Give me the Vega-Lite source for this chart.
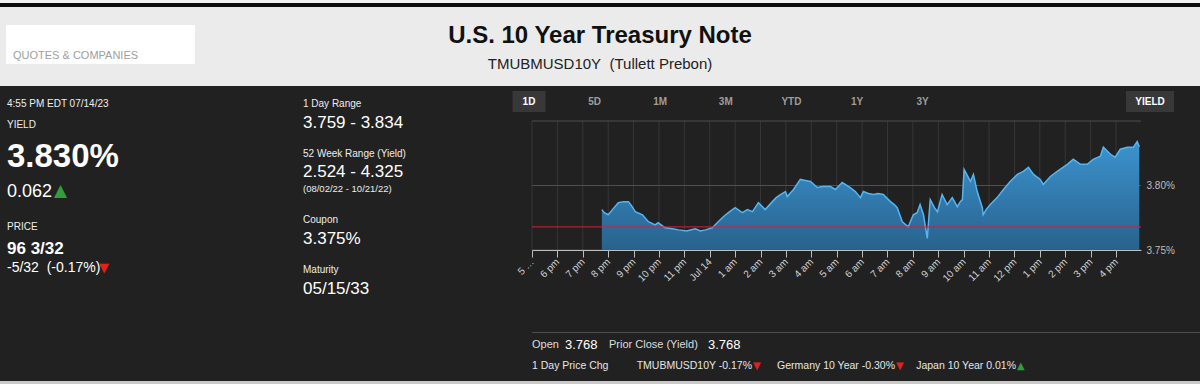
{
  "$schema": "https://vega.github.io/schema/vega-lite/v6.json",
  "width": 1200,
  "height": 384,
  "autosize": {"type": "none"},
  "padding": 0,
  "background": "#212121",
  "config": {"view": {"stroke": null}, "font": "Liberation Sans"},
  "datasets": {
    "search": [{"placeholder": "QUOTES & COMPANIES"}],
    "header": [
      {"role": "title", "text": "U.S. 10 Year Treasury Note"},
      {"role": "subtitle", "text": "TMUBMUSD10Y\u00a0 (Tullett Prebon)"}
    ],
    "quote": [
      {"panel": "quote", "key": "time", "label": "4:55 PM EDT 07/14/23"},
      {"panel": "quote", "key": "yield", "label": "YIELD", "value": "3.830%", "change": "0.062", "dir": "up"},
      {"panel": "quote", "key": "price", "label": "PRICE", "value": "96 3/32", "change": "-5/32\u00a0 (-0.17%)", "dir": "down"}
    ],
    "stats": [
      {"panel": "stats", "key": "1 Day Range", "value": "3.759 - 3.834"},
      {"panel": "stats", "key": "52 Week Range (Yield)", "value": "2.524 - 4.325", "note": "(08/02/22 - 10/21/22)"},
      {"panel": "stats", "key": "Coupon", "value": "3.375%"},
      {"panel": "stats", "key": "Maturity", "value": "05/15/33"}
    ],
    "toolbar": [
      {"bar": "toolbar", "button": "1D", "active": true},
      {"bar": "toolbar", "button": "5D", "active": false},
      {"bar": "toolbar", "button": "1M", "active": false},
      {"bar": "toolbar", "button": "3M", "active": false},
      {"bar": "toolbar", "button": "YTD", "active": false},
      {"bar": "toolbar", "button": "1Y", "active": false},
      {"bar": "toolbar", "button": "3Y", "active": false}
    ],
    "mode": [{"bar": "toolbar", "button": "YIELD", "active": true}],
    "prior": [{"label": "Prior Close (Yield)", "close": 3.768}],
    "levels": [{"level": 3.75}, {"level": 3.8}, {"level": 3.85}],
    "hours": [
      {"hour": "2023-07-13T17:00"}, {"hour": "2023-07-13T18:00"}, {"hour": "2023-07-13T19:00"}, {"hour": "2023-07-13T20:00"},
      {"hour": "2023-07-13T21:00"}, {"hour": "2023-07-13T22:00"}, {"hour": "2023-07-13T23:00"}, {"hour": "2023-07-14T00:00"},
      {"hour": "2023-07-14T01:00"}, {"hour": "2023-07-14T02:00"}, {"hour": "2023-07-14T03:00"}, {"hour": "2023-07-14T04:00"},
      {"hour": "2023-07-14T05:00"}, {"hour": "2023-07-14T06:00"}, {"hour": "2023-07-14T07:00"}, {"hour": "2023-07-14T08:00"},
      {"hour": "2023-07-14T09:00"}, {"hour": "2023-07-14T10:00"}, {"hour": "2023-07-14T11:00"}, {"hour": "2023-07-14T12:00"},
      {"hour": "2023-07-14T13:00"}, {"hour": "2023-07-14T14:00"}, {"hour": "2023-07-14T15:00"}, {"hour": "2023-07-14T16:00"}
    ],
    "footer1": [
      {"line": "prices", "item": "open", "kind": "label", "text": "Open"},
      {"line": "prices", "item": "open_value", "kind": "value", "text": "3.768"},
      {"line": "prices", "item": "prior", "kind": "label", "text": "Prior Close (Yield)"},
      {"line": "prices", "item": "prior_value", "kind": "value", "text": "3.768"}
    ],
    "footer2": [
      {"line": "changes", "item": "label", "text": "1 Day Price Chg"},
      {"line": "changes", "item": "TMUBMUSD10Y", "text": "TMUBMUSD10Y -0.17%", "dir": "down"},
      {"line": "changes", "item": "Germany", "text": "Germany 10 Year -0.30%", "dir": "down"},
      {"line": "changes", "item": "Japan", "text": "Japan 10 Year 0.01%", "dir": "up"}
    ],
    "yield": [
      {"t": "2023-07-13T19:45", "y": 3.7813},
      {"t": "2023-07-13T19:51", "y": 3.7789},
      {"t": "2023-07-13T20:00", "y": 3.7773},
      {"t": "2023-07-13T20:10", "y": 3.7813},
      {"t": "2023-07-13T20:24", "y": 3.7867},
      {"t": "2023-07-13T20:36", "y": 3.7875},
      {"t": "2023-07-13T20:48", "y": 3.7875},
      {"t": "2023-07-13T20:55", "y": 3.7844},
      {"t": "2023-07-13T21:04", "y": 3.7797},
      {"t": "2023-07-13T21:21", "y": 3.7773},
      {"t": "2023-07-13T21:35", "y": 3.7719},
      {"t": "2023-07-13T21:51", "y": 3.7695},
      {"t": "2023-07-13T21:58", "y": 3.7711},
      {"t": "2023-07-13T22:15", "y": 3.7672},
      {"t": "2023-07-13T22:32", "y": 3.7664},
      {"t": "2023-07-13T22:46", "y": 3.7656},
      {"t": "2023-07-13T23:05", "y": 3.7648},
      {"t": "2023-07-13T23:26", "y": 3.7664},
      {"t": "2023-07-13T23:38", "y": 3.7648},
      {"t": "2023-07-13T23:50", "y": 3.7656},
      {"t": "2023-07-14T00:06", "y": 3.7672},
      {"t": "2023-07-14T00:20", "y": 3.7719},
      {"t": "2023-07-14T00:32", "y": 3.7758},
      {"t": "2023-07-14T00:44", "y": 3.7789},
      {"t": "2023-07-14T01:00", "y": 3.7828},
      {"t": "2023-07-14T01:17", "y": 3.7789},
      {"t": "2023-07-14T01:29", "y": 3.7813},
      {"t": "2023-07-14T01:41", "y": 3.7797},
      {"t": "2023-07-14T01:55", "y": 3.7867},
      {"t": "2023-07-14T02:11", "y": 3.7813},
      {"t": "2023-07-14T02:28", "y": 3.7875},
      {"t": "2023-07-14T02:37", "y": 3.7906},
      {"t": "2023-07-14T02:47", "y": 3.7930},
      {"t": "2023-07-14T02:59", "y": 3.7953},
      {"t": "2023-07-14T03:03", "y": 3.7914},
      {"t": "2023-07-14T03:18", "y": 3.7969},
      {"t": "2023-07-14T03:34", "y": 3.8047},
      {"t": "2023-07-14T03:46", "y": 3.8039},
      {"t": "2023-07-14T03:58", "y": 3.8031},
      {"t": "2023-07-14T04:14", "y": 3.7984},
      {"t": "2023-07-14T04:28", "y": 3.7992},
      {"t": "2023-07-14T04:45", "y": 3.7992},
      {"t": "2023-07-14T04:57", "y": 3.7969},
      {"t": "2023-07-14T05:13", "y": 3.8023},
      {"t": "2023-07-14T05:32", "y": 3.7984},
      {"t": "2023-07-14T05:44", "y": 3.7953},
      {"t": "2023-07-14T05:56", "y": 3.7906},
      {"t": "2023-07-14T06:03", "y": 3.7953},
      {"t": "2023-07-14T06:15", "y": 3.7938},
      {"t": "2023-07-14T06:27", "y": 3.7930},
      {"t": "2023-07-14T06:38", "y": 3.7938},
      {"t": "2023-07-14T06:50", "y": 3.7930},
      {"t": "2023-07-14T07:07", "y": 3.7875},
      {"t": "2023-07-14T07:16", "y": 3.7852},
      {"t": "2023-07-14T07:23", "y": 3.7828},
      {"t": "2023-07-14T07:35", "y": 3.7719},
      {"t": "2023-07-14T07:49", "y": 3.7680},
      {"t": "2023-07-14T08:01", "y": 3.7773},
      {"t": "2023-07-14T08:10", "y": 3.7789},
      {"t": "2023-07-14T08:17", "y": 3.7852},
      {"t": "2023-07-14T08:25", "y": 3.7773},
      {"t": "2023-07-14T08:34", "y": 3.7590},
      {"t": "2023-07-14T08:41", "y": 3.7891},
      {"t": "2023-07-14T08:51", "y": 3.7828},
      {"t": "2023-07-14T08:58", "y": 3.7797},
      {"t": "2023-07-14T09:09", "y": 3.7930},
      {"t": "2023-07-14T09:21", "y": 3.7852},
      {"t": "2023-07-14T09:33", "y": 3.7906},
      {"t": "2023-07-14T09:45", "y": 3.7836},
      {"t": "2023-07-14T09:52", "y": 3.7875},
      {"t": "2023-07-14T09:57", "y": 3.7891},
      {"t": "2023-07-14T10:01", "y": 3.8125},
      {"t": "2023-07-14T10:11", "y": 3.8063},
      {"t": "2023-07-14T10:16", "y": 3.8031},
      {"t": "2023-07-14T10:23", "y": 3.8086},
      {"t": "2023-07-14T10:32", "y": 3.7953},
      {"t": "2023-07-14T10:44", "y": 3.7828},
      {"t": "2023-07-14T10:46", "y": 3.7773},
      {"t": "2023-07-14T10:53", "y": 3.7813},
      {"t": "2023-07-14T11:03", "y": 3.7852},
      {"t": "2023-07-14T11:19", "y": 3.7906},
      {"t": "2023-07-14T11:34", "y": 3.7969},
      {"t": "2023-07-14T11:50", "y": 3.8031},
      {"t": "2023-07-14T12:07", "y": 3.8086},
      {"t": "2023-07-14T12:21", "y": 3.8109},
      {"t": "2023-07-14T12:33", "y": 3.8141},
      {"t": "2023-07-14T12:45", "y": 3.8086},
      {"t": "2023-07-14T13:01", "y": 3.8047},
      {"t": "2023-07-14T13:08", "y": 3.8008},
      {"t": "2023-07-14T13:25", "y": 3.8070},
      {"t": "2023-07-14T13:41", "y": 3.8109},
      {"t": "2023-07-14T14:05", "y": 3.8164},
      {"t": "2023-07-14T14:19", "y": 3.8203},
      {"t": "2023-07-14T14:36", "y": 3.8164},
      {"t": "2023-07-14T14:52", "y": 3.8164},
      {"t": "2023-07-14T15:06", "y": 3.8203},
      {"t": "2023-07-14T15:23", "y": 3.8227},
      {"t": "2023-07-14T15:30", "y": 3.8297},
      {"t": "2023-07-14T15:47", "y": 3.8242},
      {"t": "2023-07-14T15:58", "y": 3.8219},
      {"t": "2023-07-14T16:10", "y": 3.8281},
      {"t": "2023-07-14T16:27", "y": 3.8297},
      {"t": "2023-07-14T16:41", "y": 3.8297},
      {"t": "2023-07-14T16:50", "y": 3.8340},
      {"t": "2023-07-14T16:55", "y": 3.8300}
    ]
  },
  "layer": [
    {
      "data": {"values": [{"region": "page top edge"}]},
      "mark": {"type": "rect", "fill": "#f2f2f2"},
      "encoding": {
        "x": {"field": "region", "type": "nominal", "scale": {"type": "band", "range": [0, 1200], "paddingInner": 0, "paddingOuter": 0}, "axis": null},
        "y": {"field": "region", "type": "nominal", "scale": {"type": "band", "range": [0, 3], "paddingInner": 0, "paddingOuter": 0}, "axis": null}
      }
    },
    {
      "data": {"values": [{"region": "page top border"}]},
      "mark": {"type": "rect", "fill": "#0d0d0d"},
      "encoding": {
        "x": {"field": "region", "type": "nominal", "scale": {"type": "band", "range": [0, 1200], "paddingInner": 0, "paddingOuter": 0}, "axis": null},
        "y": {"field": "region", "type": "nominal", "scale": {"type": "band", "range": [3, 7], "paddingInner": 0, "paddingOuter": 0}, "axis": null}
      }
    },
    {
      "data": {"values": [{"region": "header"}]},
      "mark": {"type": "rect", "fill": "#ebebeb"},
      "encoding": {
        "x": {"field": "region", "type": "nominal", "scale": {"type": "band", "range": [0, 1200], "paddingInner": 0, "paddingOuter": 0}, "axis": null},
        "y": {"field": "region", "type": "nominal", "scale": {"type": "band", "range": [7, 86], "paddingInner": 0, "paddingOuter": 0}, "axis": null}
      }
    },
    {
      "data": {"name": "search"},
      "encoding": {
        "x": {"field": "placeholder", "type": "nominal", "scale": {"type": "band", "range": [6, 195], "paddingInner": 0, "paddingOuter": 0}, "axis": null},
        "y": {"field": "placeholder", "type": "nominal", "scale": {"type": "band", "range": [25, 64], "paddingInner": 0, "paddingOuter": 0}, "axis": null}
      },
      "layer": [
        {"mark": {"type": "rect", "fill": "#ffffff"}},
        {
          "mark": {"type": "text", "align": "left", "baseline": "middle", "dx": 7, "dy": 11.5, "fontSize": 11, "color": "#9e9e9e"},
          "encoding": {
            "x": {"field": "placeholder", "type": "nominal", "bandPosition": 0},
            "text": {"field": "placeholder"}
          }
        }
      ]
    },
    {
      "data": {"name": "header"},
      "encoding": {
        "x": {"field": "role", "type": "nominal", "scale": {"type": "point", "range": [600, 600], "padding": 0}, "axis": null},
        "y": {"field": "role", "type": "nominal", "scale": {"type": "point", "domain": ["title", "subtitle"], "range": [36, 64], "padding": 0}, "axis": null},
        "text": {"field": "text"}
      },
      "layer": [
        {"transform": [{"filter": "datum.role === 'title'"}], "mark": {"type": "text", "baseline": "middle", "fontWeight": "bold", "fontSize": 24, "color": "#111111"}},
        {"transform": [{"filter": "datum.role === 'subtitle'"}], "mark": {"type": "text", "baseline": "middle", "fontSize": 15, "color": "#222222"}}
      ]
    },
    {
      "data": {"name": "quote"},
      "encoding": {
        "x": {"field": "panel", "type": "nominal", "scale": {"type": "point", "domain": ["quote", "stats"], "range": [7, 303], "padding": 0}, "axis": null},
        "y": {"field": "key", "type": "nominal", "scale": {"type": "point", "domain": ["time", "yield", "q1", "q2", "q3", "q4", "price"], "range": [104, 227], "padding": 0}, "axis": null}
      },
      "layer": [
        {"mark": {"type": "text", "align": "left", "baseline": "middle", "fontSize": 10, "color": "#eeeeee"}, "encoding": {"text": {"field": "label"}}},
        {"transform": [{"filter": "datum.key === 'yield'"}], "mark": {"type": "text", "align": "left", "baseline": "middle", "dy": 32, "fontWeight": "bold", "fontSize": 33, "color": "#ffffff"}, "encoding": {"text": {"field": "value"}}},
        {"transform": [{"filter": "datum.key === 'yield'"}], "mark": {"type": "text", "align": "left", "baseline": "middle", "dy": 67, "fontSize": 18, "color": "#ffffff"}, "encoding": {"text": {"field": "change"}}},
        {"transform": [{"filter": "datum.key === 'yield'"}], "mark": {"type": "text", "align": "left", "baseline": "middle", "dx": 47, "dy": 66, "fontSize": 17, "font": "DejaVu Sans"}, "encoding": {"text": {"condition": {"test": "datum.dir === 'up'", "value": "▲"}, "value": "▼"}, "color": {"condition": {"test": "datum.dir === 'up'", "value": "#2f9e3b"}, "value": "#e3201b"}}},
        {"transform": [{"filter": "datum.key === 'price'"}], "mark": {"type": "text", "align": "left", "baseline": "middle", "dy": 21.5, "fontWeight": "bold", "fontSize": 17, "color": "#ffffff"}, "encoding": {"text": {"field": "value"}}},
        {"transform": [{"filter": "datum.key === 'price'"}], "mark": {"type": "text", "align": "left", "baseline": "middle", "dy": 41, "fontSize": 14, "color": "#ffffff"}, "encoding": {"text": {"field": "change"}}},
        {"transform": [{"filter": "datum.key === 'price'"}], "mark": {"type": "text", "align": "left", "baseline": "middle", "dx": 92, "dy": 41, "fontSize": 13, "font": "DejaVu Sans"}, "encoding": {"text": {"condition": {"test": "datum.dir === 'up'", "value": "▲"}, "value": "▼"}, "color": {"condition": {"test": "datum.dir === 'up'", "value": "#2f9e3b"}, "value": "#e3201b"}}}
      ]
    },
    {
      "data": {"name": "stats"},
      "encoding": {
        "x": {"field": "panel", "type": "nominal", "scale": {"type": "point", "domain": ["quote", "stats"], "range": [7, 303], "padding": 0}, "axis": null},
        "y": {"field": "key", "type": "nominal", "scale": {"type": "point", "domain": ["1 Day Range", "s1", "s2", "52 Week Range (Yield)", "s3", "s4", "s5", "Coupon", "s6", "s7", "Maturity"], "range": [104, 270], "padding": 0}, "axis": null}
      },
      "layer": [
        {"mark": {"type": "text", "align": "left", "baseline": "middle", "fontSize": 10, "color": "#eeeeee"}, "encoding": {"text": {"field": "key"}}},
        {"mark": {"type": "text", "align": "left", "baseline": "middle", "dy": 18.5, "fontSize": 17, "color": "#ffffff"}, "encoding": {"text": {"field": "value"}}},
        {"transform": [{"filter": "isValid(datum.note)"}], "mark": {"type": "text", "align": "left", "baseline": "middle", "dy": 35, "fontSize": 9.5, "color": "#eeeeee"}, "encoding": {"text": {"field": "note"}}}
      ]
    },
    {
      "data": {"name": "toolbar"},
      "encoding": {
        "x": {"field": "button", "type": "nominal", "scale": {"type": "band", "domain": ["1D", "5D", "1M", "3M", "YTD", "1Y", "3Y"], "range": [496.2, 955.4], "paddingInner": 0.497, "paddingOuter": 0.2485}, "axis": null},
        "y": {"field": "bar", "type": "nominal", "scale": {"type": "band", "domain": ["toolbar"], "range": [91, 112], "paddingInner": 0, "paddingOuter": 0}, "axis": null}
      },
      "layer": [
        {"transform": [{"filter": "datum.active"}], "mark": {"type": "rect", "fill": "#383838"}},
        {"mark": {"type": "text", "baseline": "middle", "fontWeight": "bold", "fontSize": 10}, "encoding": {"text": {"field": "button"}, "color": {"condition": {"test": "datum.active", "value": "#ffffff"}, "value": "#9d9d9d"}}}
      ]
    },
    {
      "data": {"name": "mode"},
      "encoding": {
        "x": {"field": "button", "type": "nominal", "scale": {"type": "band", "domain": ["YIELD"], "range": [1126, 1174], "paddingInner": 0, "paddingOuter": 0}, "axis": null},
        "y": {"field": "bar", "type": "nominal", "scale": {"type": "band", "domain": ["toolbar"], "range": [91, 112], "paddingInner": 0, "paddingOuter": 0}, "axis": null}
      },
      "layer": [
        {"mark": {"type": "rect", "fill": "#383838"}},
        {"mark": {"type": "text", "baseline": "middle", "fontWeight": "bold", "fontSize": 10, "color": "#ffffff"}, "encoding": {"text": {"field": "button"}}}
      ]
    },
    {
      "layer": [
        {
          "data": {"name": "hours"},
          "mark": {"type": "rule", "color": "#363636", "strokeWidth": 1},
          "encoding": {
            "x": {"field": "hour", "type": "temporal", "title": null},
            "y": {"datum": 3.75, "type": "quantitative"},
            "y2": {"datum": 3.85}
          }
        },
        {
          "data": {"name": "levels"},
          "mark": {"type": "rule", "color": "#4f4f4f", "strokeWidth": 1},
          "encoding": {
            "x": {"datum": {"year": 2023, "month": 7, "date": 13, "hours": 17}, "type": "temporal"},
            "x2": {"datum": {"year": 2023, "month": 7, "date": 14, "hours": 16, "minutes": 59}},
            "y": {"field": "level", "type": "quantitative", "title": null}
          }
        },
        {
          "data": {"name": "yield"},
          "mark": {"type": "area", "line": false, "fill": {"gradient": "linear", "x1": 0, "y1": 0, "x2": 0, "y2": 1, "stops": [{"offset": 0, "color": "#3c93cf"}, {"offset": 1, "color": "#28628c"}]}},
          "encoding": {
            "x": {
              "field": "t", "type": "temporal", "title": null,
              "scale": {"domain": [{"year": 2023, "month": 7, "date": 13, "hours": 17}, {"year": 2023, "month": 7, "date": 14, "hours": 16, "minutes": 59}], "range": [532, 1141], "nice": false},
              "axis": {
                "title": null, "orient": "bottom", "offset": -134, "zindex": 1, "grid": false,
                "domain": true, "domainColor": "#bdbdbd", "ticks": true, "tickColor": "#bdbdbd", "tickSize": 7,
                "tickCount": 24,
                "labelAngle": -45, "labelAlign": "right", "labelBaseline": "middle", "labelPadding": 3,
                "labelColor": "#cfcfcf", "labelFontSize": 10, "labelOverlap": false, "labelFlush": false,
                "labelExpr": "hours(datum.value) === 0 ? 'Jul 14' : ((date(datum.value) === 13 && hours(datum.value) === 17) ? '5 …' : ((hours(datum.value) % 12 === 0 ? 12 : hours(datum.value) % 12) + (hours(datum.value) < 12 ? ' am' : ' pm')))"
              }
            },
            "y": {
              "field": "y", "type": "quantitative", "title": null,
              "scale": {"domain": [3.75, 3.85], "range": [250, 121], "zero": false, "nice": false},
              "axis": {
                "title": null, "orient": "right", "offset": -59, "values": [3.75, 3.8], "grid": false,
                "domain": false, "ticks": false, "labelPadding": 5, "labelColor": "#bdbdbd", "labelFontSize": 10,
                "labelExpr": "format(datum.value, '.2f') + '%'"
              }
            },
            "y2": {"datum": 3.75}
          }
        },
        {
          "data": {"name": "yield"},
          "mark": {"type": "line", "color": "#56b5ef", "strokeWidth": 1.5},
          "encoding": {
            "x": {"field": "t", "type": "temporal", "title": null},
            "y": {"field": "y", "type": "quantitative", "title": null}
          }
        },
        {
          "data": {"name": "prior"},
          "mark": {"type": "rule", "color": "#d2213d", "opacity": 0.8, "strokeWidth": 1.2},
          "encoding": {
            "x": {"datum": {"year": 2023, "month": 7, "date": 13, "hours": 17}, "type": "temporal"},
            "x2": {"datum": {"year": 2023, "month": 7, "date": 14, "hours": 16, "minutes": 59}},
            "y": {"field": "close", "type": "quantitative", "title": null}
          }
        }
      ]
    },
    {
      "data": {"values": [{"region": "footer separator"}]},
      "mark": {"type": "rect", "fill": "#4d4d4d"},
      "encoding": {
        "x": {"field": "region", "type": "nominal", "scale": {"type": "band", "range": [532, 1200], "paddingInner": 0, "paddingOuter": 0}, "axis": null},
        "y": {"field": "region", "type": "nominal", "scale": {"type": "band", "range": [332, 333], "paddingInner": 0, "paddingOuter": 0}, "axis": null}
      }
    },
    {
      "data": {"name": "footer1"},
      "encoding": {
        "x": {"field": "item", "type": "nominal", "scale": {"type": "point", "domain": ["open", "f1", "f2", "open_value", "f4", "f5", "f6", "prior", "f8", "f9", "f10", "f11", "f12", "f13", "f14", "f15", "prior_value"], "range": [532, 708], "padding": 0}, "axis": null},
        "y": {"field": "line", "type": "nominal", "scale": {"type": "point", "domain": ["prices", "changes"], "range": [344.5, 366], "padding": 0}, "axis": null},
        "text": {"field": "text"}
      },
      "layer": [
        {"transform": [{"filter": "datum.kind === 'label'"}], "mark": {"type": "text", "align": "left", "baseline": "middle", "fontSize": 11, "color": "#dddddd"}},
        {"transform": [{"filter": "datum.kind === 'value'"}], "mark": {"type": "text", "align": "left", "baseline": "middle", "fontSize": 13, "color": "#ffffff"}}
      ]
    },
    {
      "data": {"name": "footer2"},
      "encoding": {
        "x": {"field": "item", "type": "nominal", "scale": {"type": "point", "domain": ["label", "g1", "g2", "g3", "g4", "g5", "g6", "g7", "g8", "g9", "g10", "g11", "g12", "g13", "g14", "g15", "g16", "g17", "g18", "g19", "TMUBMUSD10Y", "g21", "g22", "g23", "g24", "g25", "g26", "g27", "g28", "g29", "g30", "g31", "g32", "Germany", "g34", "g35", "g36", "g37", "g38", "g39", "g40", "g41", "g42", "g43", "Japan"], "range": [532, 1016], "padding": 0}, "axis": null},
        "y": {"field": "line", "type": "nominal", "scale": {"type": "point", "domain": ["prices", "changes"], "range": [344.5, 366], "padding": 0}, "axis": null}
      },
      "layer": [
        {"transform": [{"filter": "!isValid(datum.dir)"}], "mark": {"type": "text", "align": "left", "baseline": "middle", "fontSize": 10.5, "color": "#e6e6e6"}, "encoding": {"text": {"field": "text"}}},
        {"transform": [{"filter": "isValid(datum.dir)"}], "mark": {"type": "text", "align": "right", "baseline": "middle", "fontSize": 10.5, "color": "#e6e6e6"}, "encoding": {"text": {"field": "text"}}},
        {"transform": [{"filter": "isValid(datum.dir)"}], "mark": {"type": "text", "align": "left", "baseline": "middle", "dx": 1, "fontSize": 10, "font": "DejaVu Sans"}, "encoding": {"text": {"condition": {"test": "datum.dir === 'up'", "value": "▲"}, "value": "▼"}, "color": {"condition": {"test": "datum.dir === 'up'", "value": "#2f9e3b"}, "value": "#e3201b"}}}
      ]
    },
    {
      "data": {"values": [{"region": "page bottom edge"}]},
      "mark": {"type": "rect", "fill": "#c9c9c9"},
      "encoding": {
        "x": {"field": "region", "type": "nominal", "scale": {"type": "band", "range": [0, 1200], "paddingInner": 0, "paddingOuter": 0}, "axis": null},
        "y": {"field": "region", "type": "nominal", "scale": {"type": "band", "range": [381, 384], "paddingInner": 0, "paddingOuter": 0}, "axis": null}
      }
    }
  ],
  "resolve": {"scale": {"x": "independent", "y": "independent"}}
}
